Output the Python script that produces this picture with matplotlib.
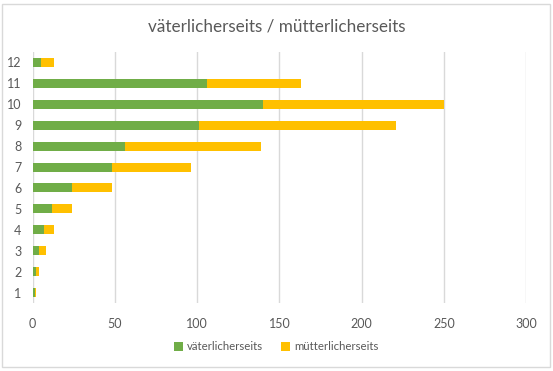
import matplotlib.pyplot as plt
from matplotlib.patches import Rectangle

# Generationen 1..12, Anzahl Vorfahren
generationen = ['1', '2', '3', '4', '5', '6', '7', '8', '9', '10', '11', '12']
vaeterlich = [1.2, 2, 4, 7, 12, 24, 48, 56, 101, 140, 106, 5]
muetterlich = [0.6, 2, 4, 6, 12, 24, 48, 83, 120, 110, 57, 8]

gruen = '#70AD47'
gelb = '#FFC000'
grau = '#595959'

plt.rcParams['font.family'] = ['Lato', 'DejaVu Sans']

fig = plt.figure(figsize=(5.53, 3.71), dpi=100)
ax = fig.add_axes([32.7 / 553, 1 - 303 / 371, (526 - 32.7) / 553, (303 - 52) / 371])

pos = range(len(generationen))
ax.barh(pos, vaeterlich, height=0.43, color=gruen, label='väterlicherseits', zorder=3)
ax.barh(pos, muetterlich, left=vaeterlich, height=0.43, color=gelb,
        label='mütterlicherseits', zorder=3)

ax.set_xlim(0, 300)
ax.set_ylim(-0.5, len(generationen) - 0.5)
ax.set_xticks([0, 50, 100, 150, 200, 250, 300])
ax.set_yticks(list(pos))
ax.set_yticklabels(generationen)
ax.tick_params(axis='both', length=0, labelsize=9, labelcolor=grau)
ax.tick_params(axis='x', pad=11)
ax.tick_params(axis='y', pad=8)
ax.grid(axis='x', color='#D9D9D9', linewidth=1, zorder=0)
for s in ax.spines.values():
    s.set_visible(False)

fig.text(0.5, 1 - 26 / 371, 'väterlicherseits / mütterlicherseits',
         ha='center', va='center', fontsize=12.3, color=grau)

fig.legend(loc='center', bbox_to_anchor=(0.5, 1 - 347 / 371), ncol=2,
           frameon=False, fontsize=8.2, labelcolor=grau, handlelength=0.75,
           handleheight=0.75, handletextpad=0.4, columnspacing=1.6)

# Rahmen des Diagramms
fig.patches.append(Rectangle((2 / 553, 4 / 371), 548 / 553, 363 / 371,
                             transform=fig.transFigure, fill=False,
                             edgecolor='#D9D9D9', linewidth=1))

fig.savefig('out.png', dpi=100)
